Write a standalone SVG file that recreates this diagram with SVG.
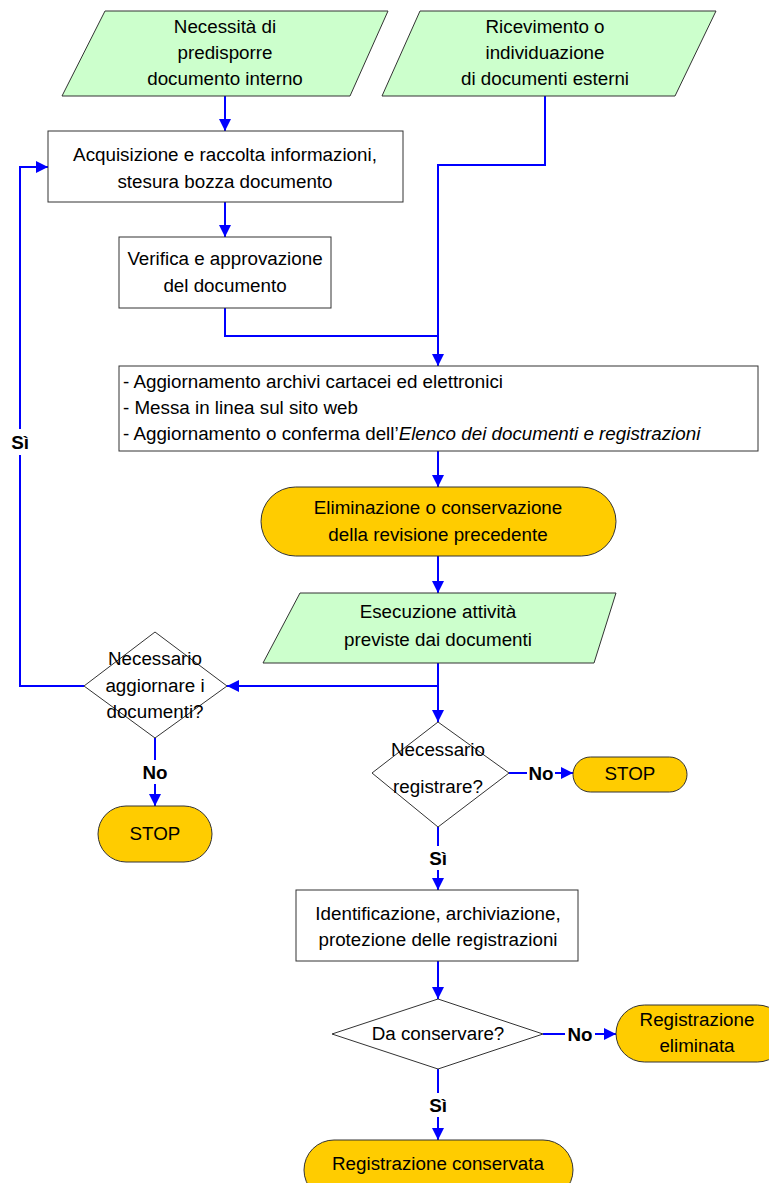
<svg xmlns="http://www.w3.org/2000/svg" width="769" height="1183" viewBox="0 0 769 1183">
  <style>
    text { font-family: "Liberation Sans", Arial, sans-serif; font-size: 18.8px; fill: #000; }
    .c { text-anchor: middle; }
    .b { font-weight: bold; }
    .io { fill: #CCFFCC; stroke: #333; stroke-width: 1; }
    .proc { fill: #fff; stroke: #333; stroke-width: 1; }
    .term { fill: #FFCC00; stroke: #333; stroke-width: 1; }
    .dec { fill: #fff; stroke: #333; stroke-width: 1; }
    .flow { fill: none; stroke: #0000FF; stroke-width: 2; }
    .lbl { fill: #fff; stroke: none; }
  </style>
  <defs>
    <marker id="arr" viewBox="0 0 12 12" refX="12" refY="6" markerWidth="13" markerHeight="12" markerUnits="userSpaceOnUse" orient="auto">
      <path d="M0,0 L12,6 L0,12 z" fill="#0000FF"/>
    </marker>
  </defs>

  <!-- connectors -->
  <g id="connectors">
    <path class="flow" d="M225,96 V131" marker-end="url(#arr)"/>
    <path class="flow" d="M225,202 V237" marker-end="url(#arr)"/>
    <path class="flow" d="M225,308 V336 H438"/>
    <path class="flow" d="M545,96 V165 H438 V366" marker-end="url(#arr)"/>
    <path class="flow" d="M438,451 V487" marker-end="url(#arr)"/>
    <path class="flow" d="M438,556 V593" marker-end="url(#arr)"/>
    <path class="flow" d="M438,663 V686 H227" marker-end="url(#arr)"/>
    <path class="flow" d="M438,686 V722" marker-end="url(#arr)"/>
    <path class="flow" d="M84,686 H20 V167 H48" marker-end="url(#arr)"/>
    <path class="flow" d="M155,738 V806" marker-end="url(#arr)"/>
    <path class="flow" d="M509,773 H573" marker-end="url(#arr)"/>
    <path class="flow" d="M438,827 V890" marker-end="url(#arr)"/>
    <path class="flow" d="M438,961 V999" marker-end="url(#arr)"/>
    <path class="flow" d="M543,1034 H616" marker-end="url(#arr)"/>
    <path class="flow" d="M438,1069 V1140" marker-end="url(#arr)"/>
    <!-- branch labels -->
    <rect class="lbl" x="9" y="429" width="23" height="26"/>
    <text class="b c" x="20" y="449">Sì</text>
    <rect class="lbl" x="139" y="760" width="32" height="24"/>
    <text class="b c" x="155" y="779">No</text>
    <rect class="lbl" x="527" y="763" width="28" height="20"/>
    <text class="b c" x="541" y="780">No</text>
    <rect class="lbl" x="427" y="846" width="23" height="24"/>
    <text class="b c" x="438" y="865">Sì</text>
    <rect class="lbl" x="565" y="1024" width="30" height="20"/>
    <text class="b c" x="580" y="1041">No</text>
    <rect class="lbl" x="427" y="1093" width="23" height="24"/>
    <text class="b c" x="438" y="1112">Sì</text>
  </g>

  <g id="n-need-internal">
    <polygon class="io" points="105,11 388,11 350,96 62,96"/>
    <text class="c" x="225" y="33">Necessità di</text>
    <text class="c" x="225" y="59">predisporre</text>
    <text class="c" x="225" y="85">documento interno</text>
  </g>
  <g id="n-external">
    <polygon class="io" points="420,11 716,11 675,96 382,96"/>
    <text class="c" x="545" y="33">Ricevimento o</text>
    <text class="c" x="545" y="59">individuazione</text>
    <text class="c" x="545" y="85">di documenti esterni</text>
  </g>
  <g id="n-draft">
    <rect class="proc" x="48" y="131" width="355" height="71"/>
    <text class="c" x="225" y="161">Acquisizione e raccolta informazioni,</text>
    <text class="c" x="225" y="188">stesura bozza documento</text>
  </g>
  <g id="n-approve">
    <rect class="proc" x="119" y="237" width="212" height="71"/>
    <text class="c" x="225" y="265">Verifica e approvazione</text>
    <text class="c" x="225" y="292">del documento</text>
  </g>
  <g id="n-update">
    <rect class="proc" x="119" y="366" width="639" height="85"/>
    <text x="123" y="388">- Aggiornamento archivi cartacei ed elettronici</text>
    <text x="123" y="414">- Messa in linea sul sito web</text>
    <text x="123" y="440">- Aggiornamento o conferma dell’<tspan font-style="italic">Elenco dei documenti e registrazioni</tspan></text>
  </g>
  <g id="n-previous">
    <rect class="term" x="261" y="487" width="355" height="69" rx="34.5" ry="34.5"/>
    <text class="c" x="438" y="514">Eliminazione o conservazione</text>
    <text class="c" x="438" y="541">della revisione precedente</text>
  </g>
  <g id="n-execute">
    <polygon class="io" points="300,593 616,593 594,663 263,663"/>
    <text class="c" x="438" y="618">Esecuzione attività</text>
    <text class="c" x="438" y="646">previste dai documenti</text>
  </g>
  <g id="n-need-update">
    <polygon class="dec" points="155,632 227,686 155,738 84,686"/>
    <text class="c" x="155" y="665">Necessario</text>
    <text class="c" x="155" y="692">aggiornare i</text>
    <text class="c" x="155" y="718">documenti?</text>
  </g>
  <g id="n-stop-1">
    <rect class="term" x="98" y="806" width="114" height="56" rx="28" ry="28"/>
    <text class="c" x="155" y="840">STOP</text>
  </g>
  <g id="n-need-record">
    <polygon class="dec" points="438,722 509,773 438,827 372,773"/>
    <text class="c" x="438" y="756">Necessario</text>
    <text class="c" x="438" y="793">registrare?</text>
  </g>
  <g id="n-stop-2">
    <rect class="term" x="573" y="757" width="114" height="35" rx="17.5" ry="17.5"/>
    <text class="c" x="630" y="780">STOP</text>
  </g>
  <g id="n-identify">
    <rect class="proc" x="296" y="890" width="282" height="71"/>
    <text class="c" x="438" y="920">Identificazione, archiviazione,</text>
    <text class="c" x="438" y="946">protezione delle registrazioni</text>
  </g>
  <g id="n-keep">
    <polygon class="dec" points="438,999 543,1034 438,1069 332,1034"/>
    <text class="c" x="438" y="1040">Da conservare?</text>
  </g>
  <g id="n-deleted">
    <rect class="term" x="616" y="1005" width="170" height="57" rx="28.5" ry="28.5"/>
    <text class="c" x="697" y="1026">Registrazione</text>
    <text class="c" x="697" y="1052">eliminata</text>
  </g>
  <g id="n-kept">
    <rect class="term" x="304" y="1140" width="269" height="60" rx="30" ry="30"/>
    <text class="c" x="438" y="1170">Registrazione conservata</text>
  </g>
</svg>
